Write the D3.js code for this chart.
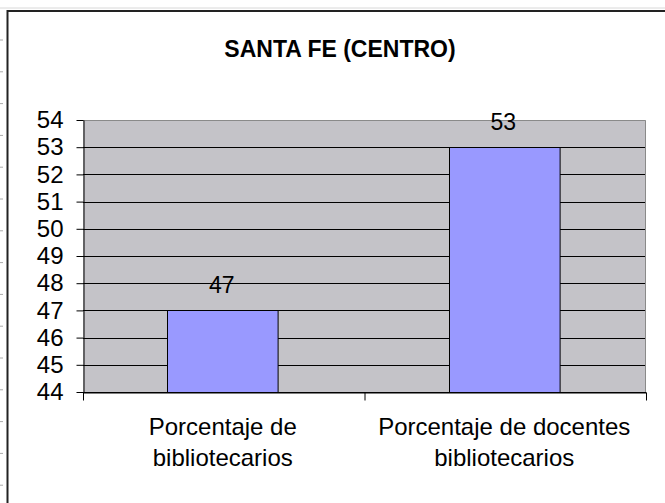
<!DOCTYPE html>
<html>
<head>
<meta charset="utf-8">
<script src="https://cdn.jsdelivr.net/npm/d3@7"></script>
<style>
  body { margin: 0; background: #fff; }
  text { font-family: "Liberation Sans", Arial, sans-serif; }
</style>
</head>
<body>
<div id="chart"></div>
<script>
const title = "SANTA FE (CENTRO)";
const categories = ["Porcentaje de bibliotecarios", "Porcentaje de docentes bibliotecarios"];
const categoryLines = [["Porcentaje de", "bibliotecarios"], ["Porcentaje de docentes", "bibliotecarios"]];
const values = [47, 53];
const yTicks = [44, 45, 46, 47, 48, 49, 50, 51, 52, 53, 54];

const width = 665, height = 503;
const margin = {top: 120, right: 19, bottom: 111, left: 83};

const svg = d3.select("#chart").append("svg")
    .attr("width", width).attr("height", height);

// sheet frame behind the chart
svg.append("line").attr("x1", 0).attr("x2", width).attr("y1", 8).attr("y2", 8)
    .attr("stroke", "#d8d8d8");
svg.append("g").selectAll("line")
  .data(d3.range(15))
  .join("line")
    .attr("x1", 0).attr("x2", 3)
    .attr("y1", d => 40 + d * 31.8).attr("y2", d => 40 + d * 31.8)
    .attr("stroke", "#aaa");
svg.append("path")
    .attr("d", `M7.5,${height}V11H${width}`)
    .attr("fill", "none").attr("stroke", "#222").attr("stroke-width", 2);

svg.append("text")
    .attr("x", 340).attr("y", 57)
    .attr("text-anchor", "middle")
    .attr("font-size", 23).attr("font-weight", "bold")
    .text(title);

const x = d3.scaleBand()
    .domain(categories)
    .range([margin.left, width - margin.right])
    .paddingInner(0.6).paddingOuter(0.3);

const xEdge = d3.scaleLinear()
    .domain([0, categories.length])
    .range([margin.left, width - margin.right]);

const y = d3.scaleLinear()
    .domain([44, 54])
    .range([height - margin.bottom, margin.top]);

// plot area
svg.append("rect")
    .attr("x", margin.left).attr("y", margin.top)
    .attr("width", width - margin.right - margin.left)
    .attr("height", height - margin.bottom - margin.top)
    .attr("fill", "#c4c3c8");

svg.append("g").selectAll("line")
  .data(yTicks.slice(0, -1))
  .join("line")
    .attr("x1", margin.left).attr("x2", width - margin.right)
    .attr("y1", d => Math.round(y(d)) + 0.5).attr("y2", d => Math.round(y(d)) + 0.5)
    .attr("stroke", "#000");

svg.append("path")
    .attr("d", `M${margin.left},${margin.top + 0.5}H${width - margin.right - 0.5}V${height - margin.bottom}`)
    .attr("fill", "none").attr("stroke", "#8a8a8a");

svg.append("g")
  .selectAll("rect")
  .data(values)
  .join("rect")
    .attr("x", (d, i) => Math.round(x(categories[i])) + 0.5)
    .attr("y", d => Math.round(y(d)) + 0.5)
    .attr("width", x.bandwidth() - 2)
    .attr("height", d => Math.round(y(44)) - Math.round(y(d)))
    .attr("fill", "#9999ff")
    .attr("stroke", "#000");

svg.append("g")
  .selectAll("text")
  .data(values)
  .join("text")
    .attr("x", (d, i) => x(categories[i]) + x.bandwidth() / 2 - 2)
    .attr("y", d => y(d) - 17)
    .attr("text-anchor", "middle")
    .attr("font-size", 23)
    .text(d => d);

// axes
const yAxis = svg.append("g")
    .attr("transform", `translate(${margin.left + 0.5},0)`)
    .call(d3.axisLeft(y).tickValues(yTicks).tickSize(7).tickPadding(13).tickSizeOuter(0));
yAxis.selectAll("text").attr("font-size", 24).attr("font-family", null).attr("fill", "#000");
yAxis.selectAll("line, path").attr("stroke", "#000");

const xAxis = svg.append("g")
    .attr("transform", `translate(0,${height - margin.bottom + 0.5})`)
    .call(d3.axisBottom(xEdge).tickValues(d3.range(categories.length + 1)).tickFormat("").tickSize(8).tickSizeOuter(0));
xAxis.selectAll("line, path").attr("stroke", "#000");

svg.append("g")
  .selectAll("text")
  .data(categoryLines)
  .join("text")
    .attr("text-anchor", "middle")
    .attr("font-size", 24)
    .attr("x", (d, i) => x(categories[i]) + x.bandwidth() / 2 - 1)
  .selectAll("tspan")
  .data(d => d)
  .join("tspan")
    .attr("x", function () { return this.parentNode.getAttribute("x"); })
    .attr("y", (d, j) => 435 + j * 31)
    .text(d => d);
</script>
</body>
</html>
